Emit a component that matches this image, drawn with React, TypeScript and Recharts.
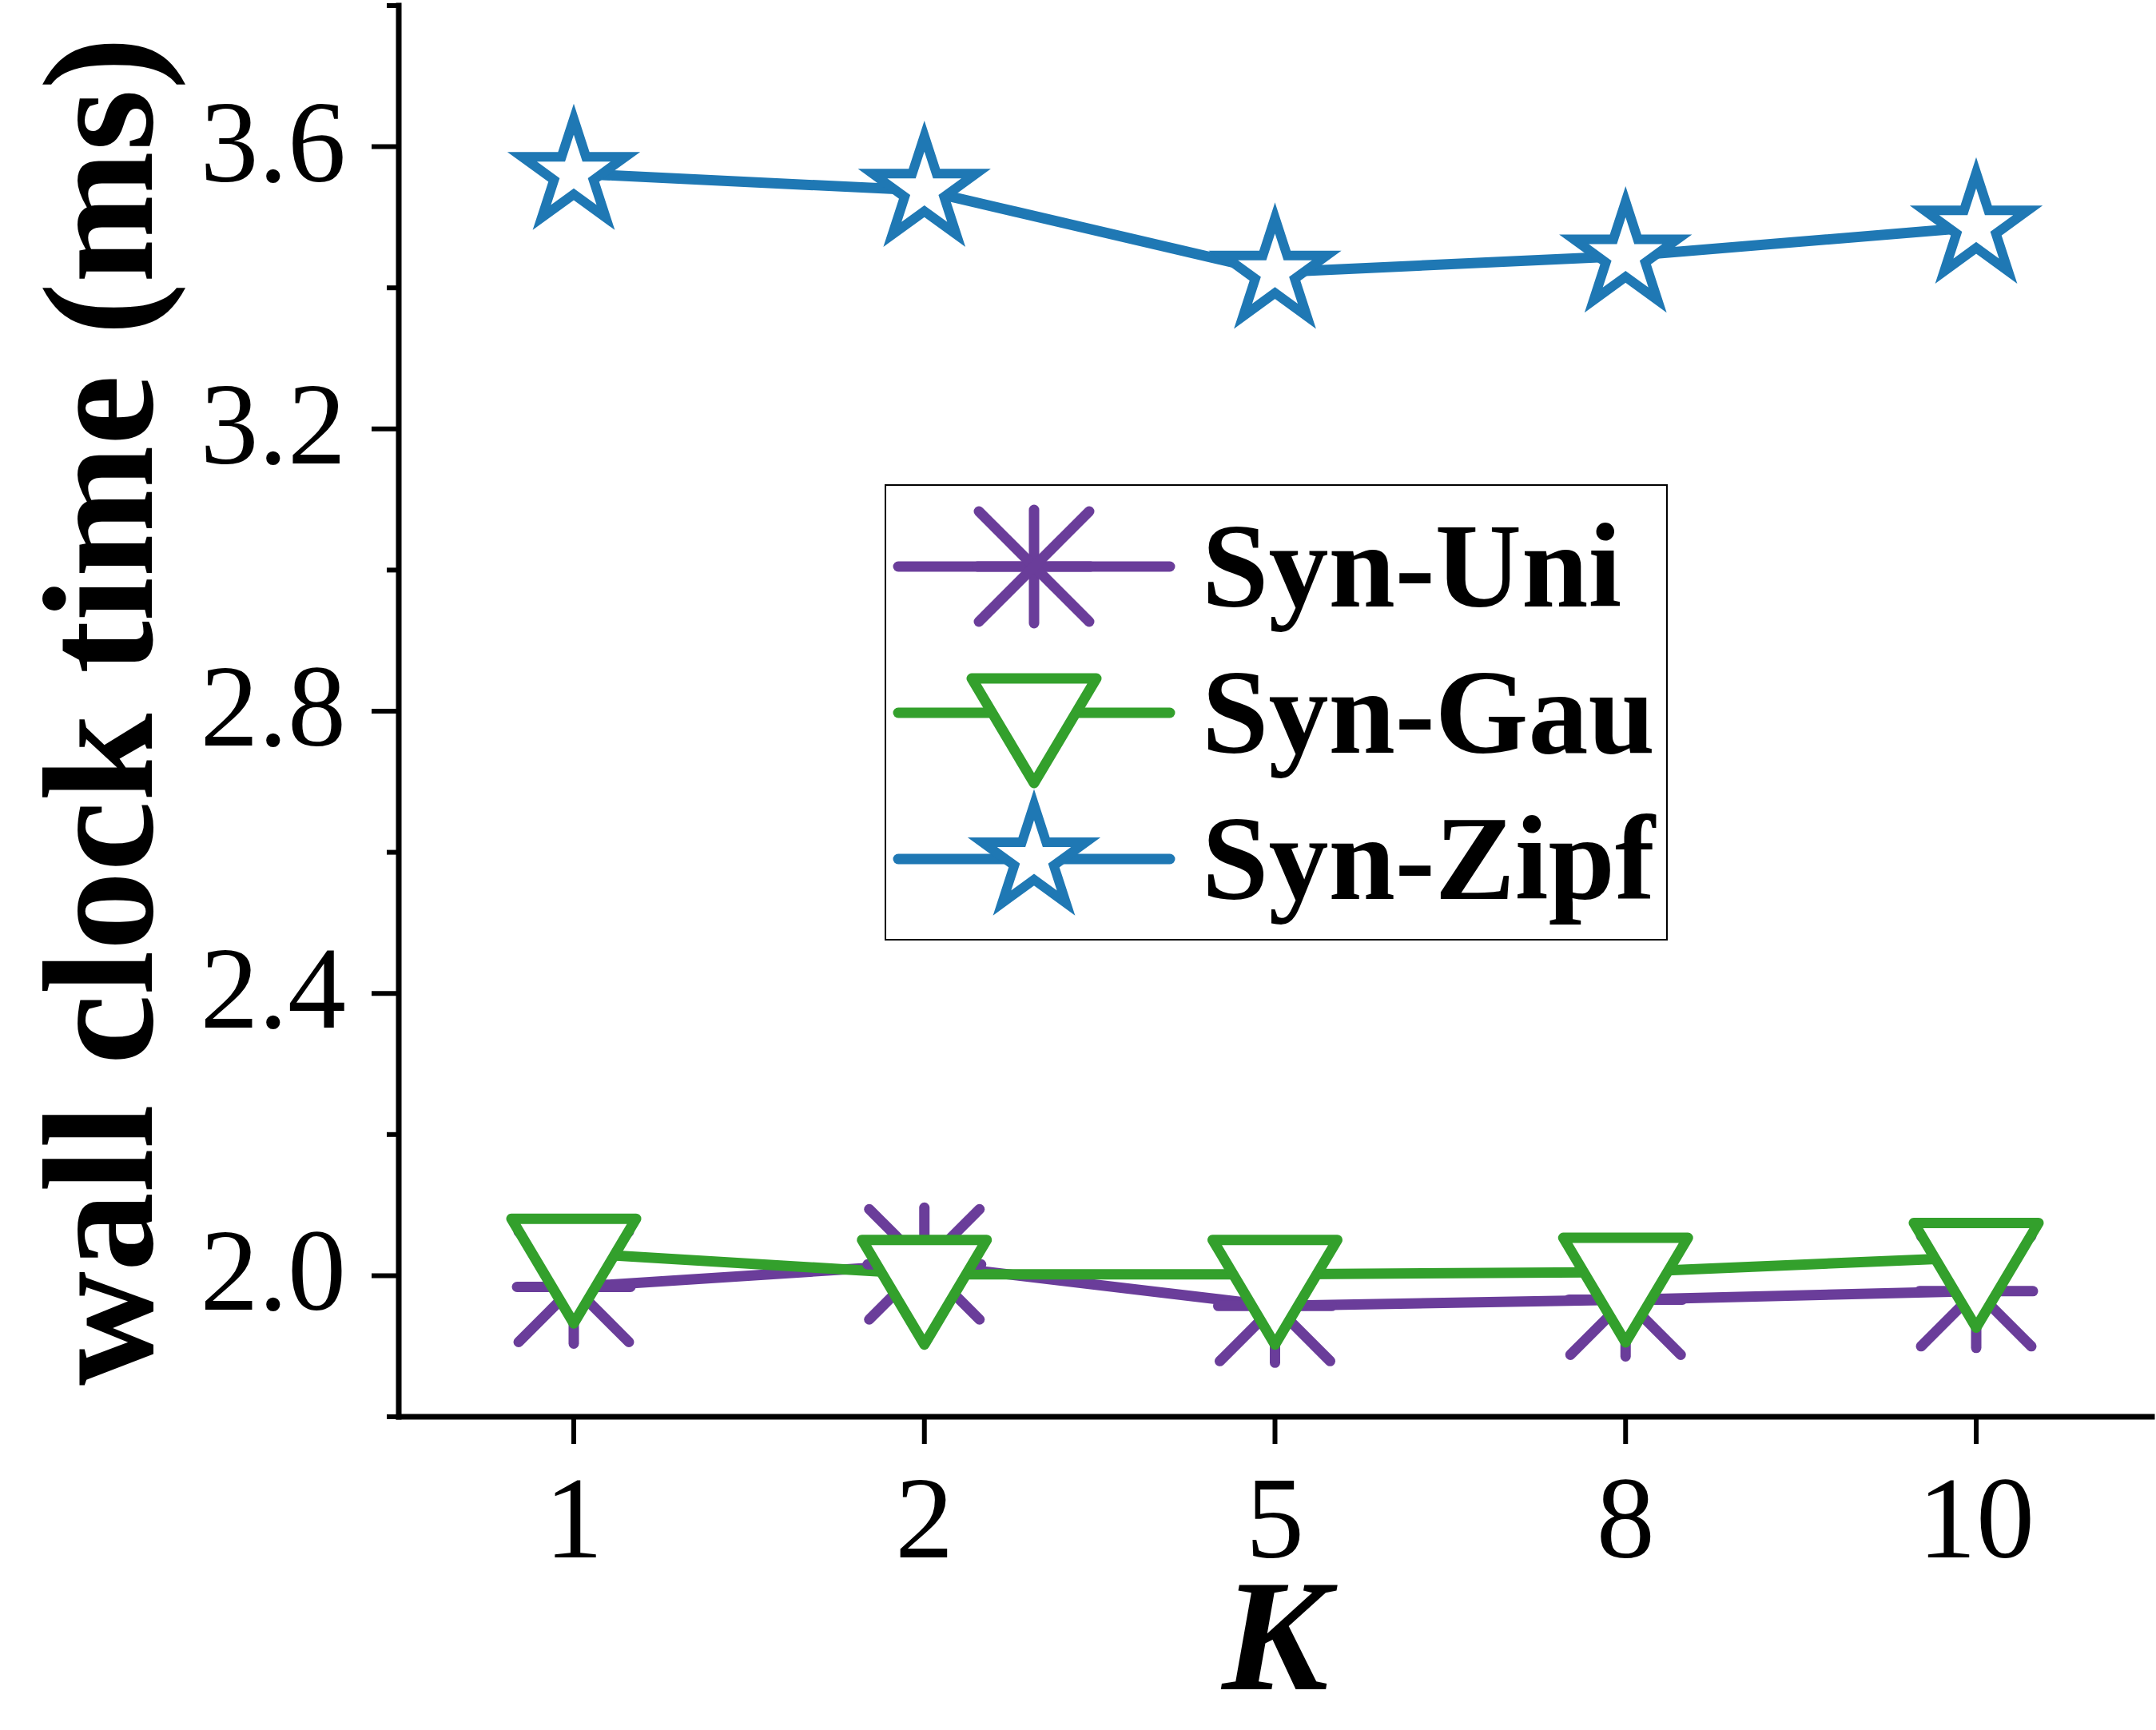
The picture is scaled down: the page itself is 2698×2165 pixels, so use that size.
import React from 'react';
import { LineChart, Line, XAxis, YAxis, Legend } from 'recharts';

// values (wall clock time in ms)
const categories = ['1', '2', '5', '8', '10'];
const synUni = [1.984, 2.016, 1.957, 1.966, 1.978];
const synGau = [2.032, 2.002, 2.002, 2.005, 2.026];
const synZipf = [3.562, 3.538, 3.422, 3.445, 3.486];

const yTicks = [1.8, 2.0, 2.2, 2.4, 2.6, 2.8, 3.0, 3.2, 3.4, 3.6, 3.8];
const yMajorLabels = ['2.0', '2.4', '2.8', '3.2', '3.6'];
const seriesOrder = ['uni', 'gau', 'zipf'];

const data = categories.map((k, i) => ({
  k,
  uni: synUni[i],
  gau: synGau[i],
  zipf: synZipf[i],
}));

const FONT =
  '"Liberation Serif", "Times New Roman", Times, Tinos, "Nimbus Roman", "Nimbus Roman No9 L", FreeSerif, serif';
const PURPLE = '#6A3D9A';
const GREEN = '#33A02C';
const BLUE = '#1F78B4';
const LINE_W = 13;
const MARK_W = 13;

function Asterisk({ cx, cy, color }: { cx: number; cy: number; color: string }) {
  const a = 71;
  const d = 69;
  return (
    <g stroke={color} strokeWidth={MARK_W} strokeLinecap="round" fill="none">
      <line x1={cx} y1={cy - a} x2={cx} y2={cy + a} />
      <line x1={cx - a} y1={cy} x2={cx + a} y2={cy} />
      <line x1={cx - d} y1={cy - d} x2={cx + d} y2={cy + d} />
      <line x1={cx - d} y1={cy + d} x2={cx + d} y2={cy - d} />
    </g>
  );
}

function TriangleDown({ cx, cy, color }: { cx: number; cy: number; color: string }) {
  const p = `M${cx - 78},${cy - 43} L${cx + 78},${cy - 43} L${cx},${cy + 88} Z`;
  return <path d={p} fill="#fff" stroke={color} strokeWidth={MARK_W} strokeLinejoin="round" />;
}

function Star({ cx, cy, color }: { cx: number; cy: number; color: string }) {
  const R = 68;
  const r = R * 0.382;
  const pts: string[] = [];
  for (let i = 0; i < 10; i++) {
    const ang = ((-90 + i * 36) * Math.PI) / 180;
    const rad = i % 2 === 0 ? R : r;
    pts.push(`${cx + rad * Math.cos(ang)},${cy + rad * Math.sin(ang)}`);
  }
  return (
    <polygon
      points={pts.join(' ')}
      fill="#fff"
      stroke={color}
      strokeWidth={12}
      strokeLinejoin="miter"
      strokeMiterlimit={10}
    />
  );
}

const markerFor: Record<string, (cx: number, cy: number, color: string, key?: string) => React.ReactElement> = {
  uni: (cx, cy, color, key) => <Asterisk key={key} cx={cx} cy={cy} color={color} />,
  gau: (cx, cy, color, key) => <TriangleDown key={key} cx={cx} cy={cy} color={color} />,
  zipf: (cx, cy, color, key) => <Star key={key} cx={cx} cy={cy} color={color} />,
};

function YTick(props: any) {
  const { x, y, payload } = props;
  const label = Number(payload.value).toFixed(1);
  const major = yMajorLabels.includes(label);
  return (
    <g>
      <line x1={major ? x : x + 19} y1={y} x2={x + 34} y2={y} stroke="#000" strokeWidth={6} />
      {major && (
        <text x={x - 32} y={y + 43} textAnchor="end" style={{ fontFamily: FONT, fontSize: 146 }} fill="#000">
          {label}
        </text>
      )}
    </g>
  );
}

function XTick(props: any) {
  const { x, y, payload } = props;
  return (
    <text x={x} y={y + 142} textAnchor="middle" style={{ fontFamily: FONT, fontSize: 146 }} fill="#000">
      {payload.value}
    </text>
  );
}

function XLabel(props: any) {
  const vb = props.viewBox || { x: 499, y: 1773, width: 2194, height: 392 };
  return (
    <text
      x={vb.x + vb.width / 2}
      y={vb.y + 341}
      textAnchor="middle"
      style={{ fontFamily: FONT, fontSize: 200, fontWeight: 'bold', fontStyle: 'italic' }}
      fill="#000"
    >
      K
    </text>
  );
}

function YLabel(props: any) {
  const vb = props.viewBox || { x: 0, y: 7, width: 499, height: 1766 };
  const lx = vb.x + 190;
  const ly = vb.y + vb.height / 2;
  return (
    <g transform={`translate(${lx}, ${ly}) rotate(-90)`}>
      <text x={0} y={0} textAnchor="middle" style={{ fontFamily: FONT, fontSize: 198, fontWeight: 'bold' }} fill="#000">
        wall clock time (ms)
      </text>
    </g>
  );
}

function LegendBox(props: any) {
  const payload: any[] = props.payload || [];
  const rowY = [103, 286, 469];
  const ordered = seriesOrder
    .map((k) => payload.find((e) => String(e.dataKey) === k))
    .filter(Boolean);
  return (
    <svg width={980} height={571}>
      <rect x={1} y={1} width={978} height={569} fill="#fff" stroke="#000" strokeWidth={2} />
      {ordered.map((entry: any, i: number) => {
        const cy = rowY[i];
        const key = String(entry.dataKey);
        return (
          <g key={key}>
            <line x1={17} y1={cy} x2={357} y2={cy} stroke={entry.color} strokeWidth={LINE_W} strokeLinecap="round" />
            {markerFor[key](187, cy, entry.color)}
            <text x={397} y={cy + 50} style={{ fontFamily: FONT, fontSize: 150, fontWeight: 'bold' }} fill="#000">
              {entry.value}
            </text>
          </g>
        );
      })}
    </svg>
  );
}

function makeDot(key: string, color: string) {
  return (p: any) => markerFor[key](p.cx, p.cy, color, `${key}-${p.index}`);
}

export default function App() {
  return (
    <div>
      <style>{'body{margin:0;background:#fff}'}</style>
      <LineChart width={2698} height={2165} data={data} margin={{ top: 7, right: 5, left: 0, bottom: 0 }}>
        <XAxis
          dataKey="k"
          type="category"
          height={392}
          padding={{ left: 219, right: 220 }}
          tickSize={34}
          tickMargin={0}
          tickLine={{ stroke: '#000', strokeWidth: 6 }}
          axisLine={{ stroke: '#000', strokeWidth: 7, strokeLinecap: 'square' }}
          tick={<XTick />}
          interval={0}
          label={<XLabel />}
        />
        <YAxis
          type="number"
          width={499}
          domain={[1.8, 3.8]}
          ticks={yTicks}
          interval={0}
          allowDataOverflow
          tickSize={34}
          tickMargin={0}
          tickLine={false}
          axisLine={{ stroke: '#000', strokeWidth: 7, strokeLinecap: 'square' }}
          tick={<YTick />}
          label={<YLabel />}
        />
        <Legend
          layout="horizontal"
          verticalAlign="middle"
          align="center"
          content={<LegendBox />}
          wrapperStyle={{ left: 1107, top: 606, width: 980, height: 571 }}
        />
        <Line
          name="Syn-Uni"
          dataKey="uni"
          stroke={PURPLE}
          strokeWidth={LINE_W}
          strokeLinecap="round"
          strokeLinejoin="round"
          dot={makeDot('uni', PURPLE)}
          isAnimationActive={false}
        />
        <Line
          name="Syn-Gau"
          dataKey="gau"
          stroke={GREEN}
          strokeWidth={LINE_W}
          strokeLinecap="round"
          strokeLinejoin="round"
          dot={makeDot('gau', GREEN)}
          isAnimationActive={false}
        />
        <Line
          name="Syn-Zipf"
          dataKey="zipf"
          stroke={BLUE}
          strokeWidth={LINE_W}
          strokeLinecap="round"
          strokeLinejoin="round"
          dot={makeDot('zipf', BLUE)}
          isAnimationActive={false}
        />
      </LineChart>
    </div>
  );
}
